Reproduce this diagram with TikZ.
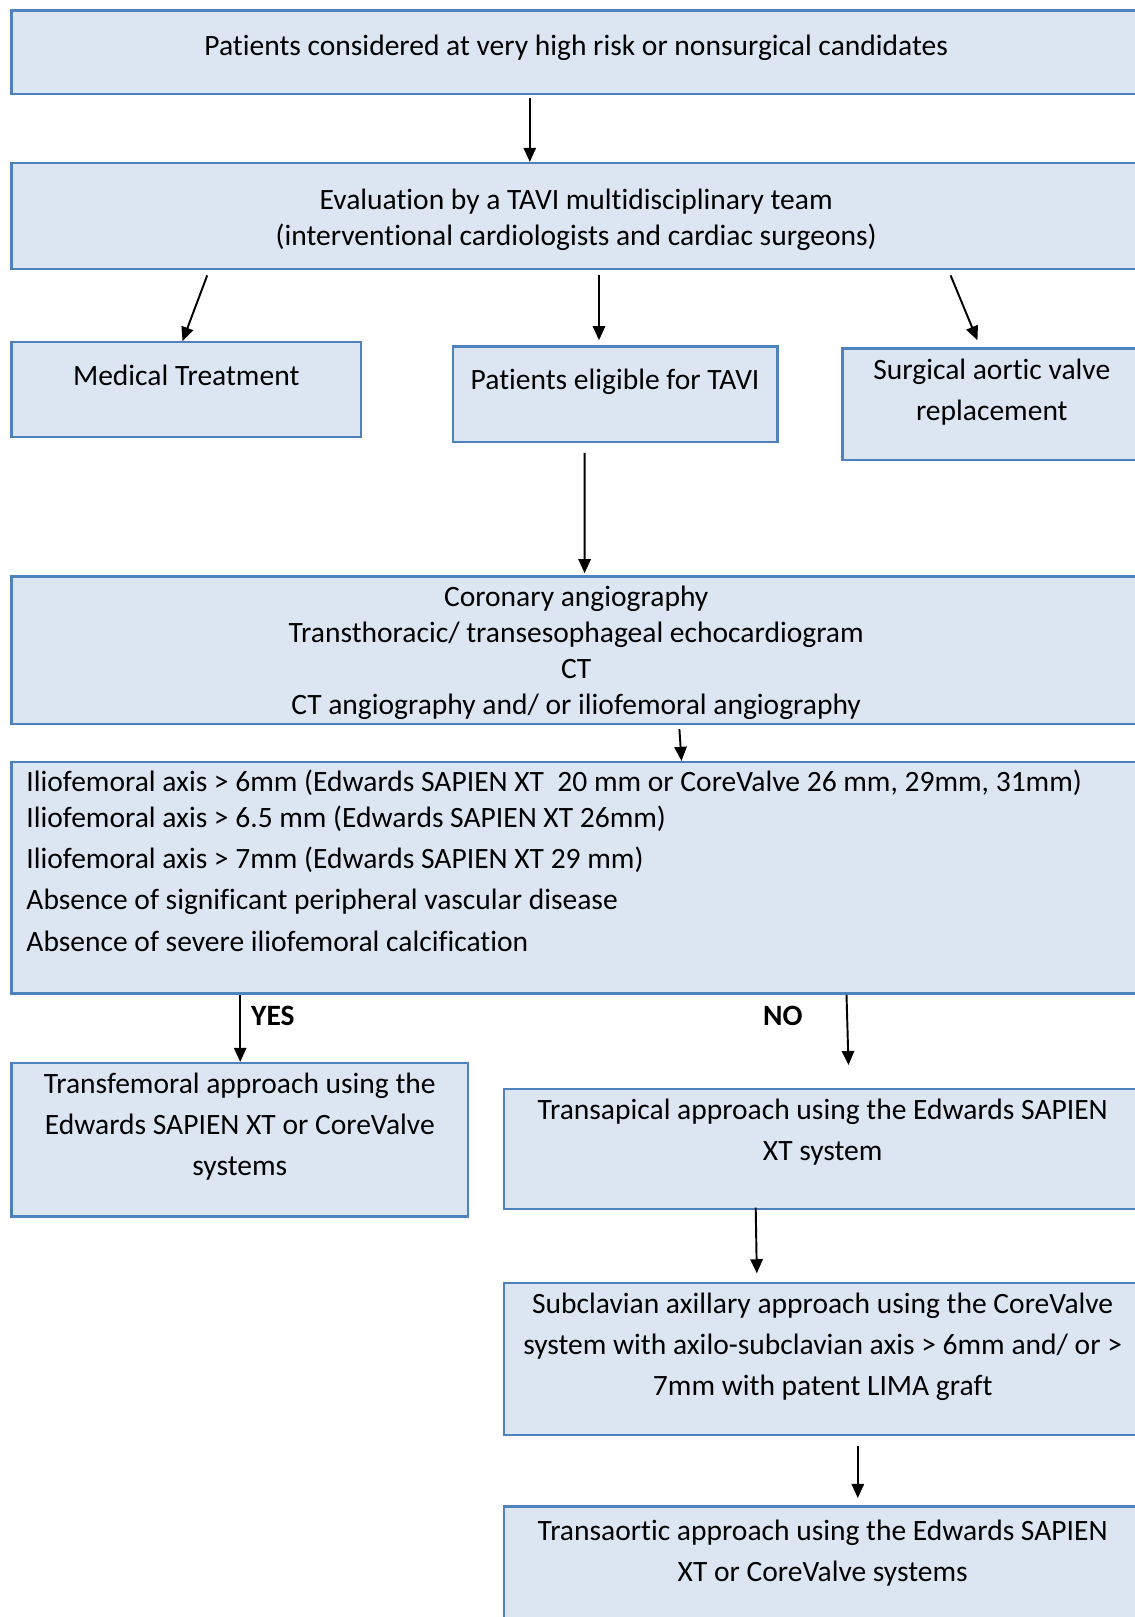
\documentclass[tikz,border=0pt]{standalone}
\usepackage{fontspec}
\setmainfont{Carlito}[Ligatures=NoCommon]
\usepackage{xcolor}
\usepackage{tikz}
\usetikzlibrary{arrows.meta, calc}
\definecolor{boxfill}{RGB}{220, 230, 242}
\definecolor{boxline}{RGB}{79, 129, 189}
\newcommand{\bottompad}[1]{\rule[-#1]{0pt}{#1}}

\begin{document}
\begin{tikzpicture}[
    box/.style={draw=boxline, fill=boxfill, line width=1.3pt, anchor=north west, inner sep=0pt, align=center,
        font=\fontsize{16.8}{23.4}\selectfont, execute at begin node={\spaceskip=\fontdimen2\font\relax}},
    single/.style={font=\fontsize{16.8}{20.5}\selectfont},
    arrow/.style={-{Triangle[length=8pt, width=7pt]}, line width=1.1pt},
    answer/.style={font=\fontsize{16.8}{20.5}\selectfont\bfseries, inner sep=0.2cm}
]
    \useasboundingbox (0,0) rectangle (22.68,-32.34);

    % Boxes
    \node[box, single, text width=22.59cm, text height=0.9cm] (top) at (0.206,-0.186)
        {Patients considered at very high risk or nonsurgical candidates\bottompad{0.77cm}};
    \node[box, single, text width=22.59cm, text height=0.92cm] (team) at (0.206,-3.238)
        {Evaluation by a TAVI multidisciplinary team\\(interventional cardiologists and cardiac surgeons)\bottompad{0.48cm}};
    \node[box, text width=6.99cm, text height=0.86cm] (med) at (0.206,-6.824)
        {Medical Treatment\bottompad{1.04cm}};
    \node[box, text width=6.494cm, text height=0.86cm] (elig) at (9.032,-6.908)
        {Patients eligible for TAVI\bottompad{1.056cm}};
    \node[box, text width=5.974cm, text height=0.612cm] (sav) at (16.826,-6.948)
        {Surgical aortic valve\\replacement\bottompad{0.79cm}};
    \node[box, single, text width=22.59cm, text height=0.594cm] (imag) at (0.206,-11.506)
        {Coronary angiography\\Transthoracic/ transesophageal echocardiogram\\CT\\CT angiography and/ or iliofemoral angiography\bottompad{0.194cm}};
    \node[box, align=left, inner xsep=0.3cm, text width=21.99cm, text height=0.592cm] (crit) at (0.206,-15.218)
        {Iliofemoral axis > 6mm (Edwards SAPIEN XT~ 20 mm or CoreValve 26 mm, 29mm, 31mm)\\[-2.9pt]
         Iliofemoral axis > 6.5 mm (Edwards SAPIEN XT 26mm)\\
         Iliofemoral axis > 7mm (Edwards SAPIEN XT 29 mm)\\
         Absence of significant peripheral vascular disease\\
         Absence of severe iliofemoral calcification\bottompad{0.852cm}};
    \node[box, text width=9.134cm, text height=0.614cm] (tf) at (0.206,-21.238)
        {Transfemoral approach using the\\Edwards SAPIEN XT or CoreValve\\systems\bottompad{0.812cm}};
    \node[box, text width=12.738cm, text height=0.612cm] (ta) at (10.062,-21.754)
        {Transapical approach using the Edwards SAPIEN\\XT system\bottompad{0.974cm}};
    \node[box, text width=12.738cm, text height=0.614cm] (sc) at (10.062,-25.63)
        {Subclavian axillary approach using the CoreValve\\system with axilo-subclavian axis > 6mm and/ or >\\7mm with patent LIMA graft\bottompad{0.79cm}};
    \node[box, text width=12.738cm, text height=0.674cm] (ao) at (10.062,-30.106)
        {Transaortic approach using the Edwards SAPIEN\\XT or CoreValve systems\bottompad{0.9cm}};

    % Arrows
    \draw[arrow] ($(top.south west)+(10.39,-0.06)$) -- ($(team.north west)+(10.39,0)$);
    \draw[arrow] ($(team.south west)+(3.938,-0.104)$) -- ($(med.north west)+(3.444,0)$);
    \draw[arrow] ($(team.south west)+(11.774,-0.104)$) -- ($(elig.north west)+(2.948,0.104)$);
    \draw[arrow] ($(team.south west)+(18.806,-0.104)$) -- ($(sav.north west)+(2.722,0.144)$);
    \draw[arrow] ($(elig.south west)+(2.66,-0.186)$) -- ($(imag.north west)+(11.486,0.042)$);
    \draw[arrow] ($(imag.south west)+(13.382,-0.082)$) -- ($(crit.north west)+(13.424,0)$);
    \draw[arrow] ($(crit.south west)+(4.598,0)$) -- ($(tf.north west)+(4.598,0)$)
        node[answer, pos=0, anchor=north west] {YES};
    \draw[arrow] ($(crit.south west)+(16.724,0)$) -- ($(ta.north west)+(6.908,0.454)$)
        node[answer, pos=0, anchor=north east, xshift=-0.66cm] {NO};
    \draw[arrow] ($(ta.south west)+(5.052,0.054)$) -- ($(sc.north west)+(5.074,0.164)$);
    \draw[arrow] ($(sc.south west)+(7.094,-0.186)$) -- ($(ao.north west)+(7.094,0.146)$);
\end{tikzpicture}
\end{document}
